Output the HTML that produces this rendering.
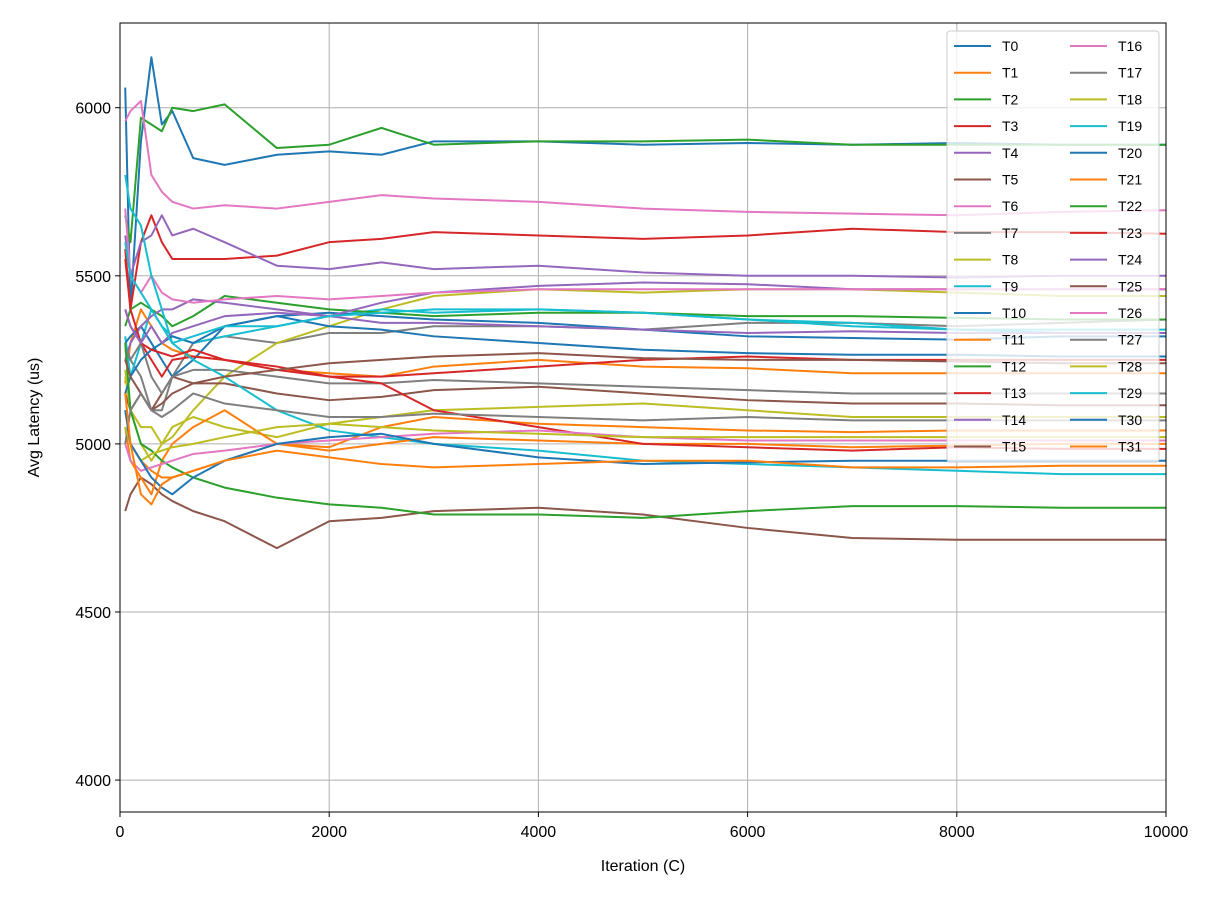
<!DOCTYPE html>
<html><head><meta charset="utf-8"><style>
body{margin:0;background:#fff;}
svg text{font-family:"Liberation Sans",sans-serif;fill:#000;}
</style></head><body>
<svg id="chart" width="1222" height="900" xmlns="http://www.w3.org/2000/svg">
<rect width="1222" height="900" fill="#fff"/>
<g id="grid"></g><g id="series"></g><g id="axes"></g><g id="legend"></g>
</svg>
<script>
const iters=[50,100,200,300,400,500,700,1000,1500,2000,2500,3000,4000,5000,6000,7000,8000,9000,10000];
const s0=[6060,5400,5900,6150,5950,5990,5850,5830,5860,5870,5860,5900,5900,5890,5895,5890,5895,5890,5890];
const s1=[5180,5300,5400,5350,5300,5280,5260,5250,5220,5210,5200,5230,5250,5230,5225,5210,5210,5210,5210];
const s2=[5680,5600,5970,5950,5930,6000,5990,6010,5880,5890,5940,5890,5900,5900,5905,5890,5890,5890,5890];
const s3=[5580,5400,5600,5680,5600,5550,5550,5550,5560,5600,5610,5630,5620,5610,5620,5640,5630,5630,5625];
const s4=[5620,5500,5600,5620,5680,5620,5640,5600,5530,5520,5540,5520,5530,5510,5500,5500,5495,5500,5500];
const s5=[4800,4850,4900,4880,4850,4830,4800,4770,4690,4770,4780,4800,4810,4790,4750,4720,4715,4715,4715];
const s6=[5960,5990,6020,5800,5750,5720,5700,5710,5700,5720,5740,5730,5720,5700,5690,5685,5680,5690,5695];
const s7=[5300,5250,5200,5100,5100,5200,5300,5320,5300,5330,5330,5350,5350,5340,5360,5360,5350,5360,5370];
const s8=[5220,5100,5050,5050,5000,5020,5100,5200,5300,5350,5400,5440,5460,5450,5460,5460,5450,5440,5440];
const s9=[5320,5200,5300,5400,5350,5320,5300,5320,5350,5380,5400,5390,5400,5390,5370,5360,5340,5330,5330];
const s10=[5300,5320,5350,5300,5250,5200,5250,5350,5380,5390,5380,5370,5360,5340,5320,5315,5310,5320,5320];
const s11=[5100,5000,4950,4920,4900,4900,4920,4950,5000,4990,5050,5080,5060,5050,5040,5035,5040,5040,5040];
const s12=[5350,5400,5420,5400,5380,5350,5380,5440,5420,5400,5390,5380,5390,5390,5380,5380,5375,5370,5370];
const s13=[5400,5350,5300,5250,5200,5250,5260,5250,5230,5200,5200,5210,5230,5250,5260,5250,5250,5250,5250];
const s14=[5250,5300,5350,5380,5400,5400,5430,5420,5400,5380,5420,5450,5470,5480,5475,5460,5460,5460,5460];
const s15=[5150,5100,5150,5100,5150,5200,5180,5180,5150,5130,5140,5160,5170,5150,5130,5120,5120,5115,5115];
const s16=[5700,5500,5450,5500,5450,5430,5420,5430,5440,5430,5440,5450,5460,5460,5460,5460,5460,5460,5460];
const s17=[5280,5250,5300,5200,5150,5200,5220,5220,5200,5180,5180,5190,5180,5170,5160,5150,5150,5150,5150];
const s18=[5200,5100,5000,4950,5000,5050,5080,5050,5020,5060,5080,5100,5110,5120,5100,5080,5080,5080,5080];
const s19=[5800,5700,5650,5500,5400,5300,5250,5200,5100,5040,5020,5000,4980,4950,4940,4930,4920,4910,4910];
const s20=[5150,5200,5250,5280,5300,5320,5300,5350,5380,5350,5340,5320,5300,5280,5270,5265,5265,5260,5260];
const s21=[5050,4950,4900,4850,4950,5000,5050,5100,5000,4980,5000,5020,5010,5000,5000,4990,4995,5000,5000];
const s22=[5300,5100,5000,4980,4950,4930,4900,4870,4840,4820,4810,4790,4790,4780,4800,4815,4815,4810,4810];
const s23=[5550,5400,5300,5280,5270,5260,5280,5250,5220,5200,5180,5100,5050,5000,4990,4980,4990,4985,4985];
const s24=[5400,5350,5300,5350,5300,5330,5350,5380,5390,5380,5360,5360,5350,5340,5330,5335,5330,5330,5330];
const s25=[5250,5200,5150,5100,5120,5150,5180,5200,5220,5240,5250,5260,5270,5255,5250,5250,5245,5240,5240];
const s26=[5000,4950,4920,4930,4940,4950,4970,4980,5000,5010,5020,5030,5040,5020,5010,5010,5010,5010,5010];
const s27=[5000,5100,5150,5100,5080,5100,5150,5120,5100,5080,5080,5090,5080,5070,5080,5070,5070,5070,5070];
const s28=[5050,5000,4950,4970,4980,4990,5000,5020,5050,5060,5050,5040,5030,5020,5020,5020,5020,5020,5020];
const s29=[5600,5500,5450,5400,5350,5300,5320,5350,5350,5380,5390,5400,5400,5390,5370,5350,5340,5340,5340];
const s30=[5100,5000,4950,4900,4870,4850,4900,4950,5000,5020,5030,5000,4960,4940,4945,4950,4950,4950,4950];
const s31=[5150,5000,4850,4820,4880,4900,4920,4950,4980,4960,4940,4930,4940,4950,4950,4930,4930,4935,4935];
const allSeries=[s0,s1,s2,s3,s4,s5,s6,s7,s8,s9,s10,s11,s12,s13,s14,s15,s16,s17,s18,s19,s20,s21,s22,s23,s24,s25,s26,s27,s28,s29,s30,s31];
const xTicks=[0,2000,4000,6000,8000,10000];
const yTicks=[4000,4500,5000,5500,6000];
const palette=['#1f77b4','#ff7f0e','#2ca02c','#d62728','#9467bd','#8c564b','#e377c2','#7f7f7f','#bcbd22','#17becf'];
const L=120,R=1166,T=23,B=812,X0=0,X1=10000,Y0=3905,Y1=6252;
const xs=v=>L+(v-X0)/(X1-X0)*(R-L);
const ys=v=>B-(v-Y0)/(Y1-Y0)*(B-T);
const NS='http://www.w3.org/2000/svg';
function mk(tag,attrs,parent){const e=document.createElementNS(NS,tag);for(const k in attrs)e.setAttribute(k,attrs[k]);parent.appendChild(e);return e;}
const grid=document.getElementById('grid'),ser=document.getElementById('series'),axes=document.getElementById('axes'),leg=document.getElementById('legend');
xTicks.forEach(t=>{
 const g=mk('line',{x1:xs(t),x2:xs(t),y1:T,y2:B,stroke:'#b0b0b0','stroke-width':1},grid);
 
 
 const tk=mk('line',{x1:xs(t),x2:xs(t),y1:B,y2:B+5,stroke:'#000','stroke-width':1},axes);
 
 
 const tx=mk('text',{x:xs(t),y:B+25,'text-anchor':'middle','font-size':16},axes);
 tx.textContent=t;
 
 
});
yTicks.forEach(t=>{
 const g=mk('line',{x1:L,x2:R,y1:ys(t),y2:ys(t),stroke:'#b0b0b0','stroke-width':1},grid);
 
 
 const tk=mk('line',{x1:L-5,x2:L,y1:ys(t),y2:ys(t),stroke:'#000','stroke-width':1},axes);
 
 
 const tx=mk('text',{x:L-9,y:ys(t)+6,'text-anchor':'end','font-size':16},axes);
 tx.textContent=t;
 
 
});
allSeries.forEach((s,i)=>{
 const p=mk('polyline',{points:s.map((v,j)=>xs(iters[j])+','+ys(v)).join(' '),fill:'none',stroke:palette[i%10],'stroke-width':2,'stroke-linejoin':'round'},ser);
 
 
});
const fr=mk('rect',{x:L,y:T,width:R-L,height:B-T,fill:'none',stroke:'#000','stroke-width':1},axes);


const xl=mk('text',{x:(L+R)/2,y:871,'text-anchor':'middle','font-size':16},axes);
xl.textContent='Iteration (C)';


const yl=mk('text',{x:0,y:0,'text-anchor':'middle','font-size':16,transform:'translate(39,'+((T+B)/2)+') rotate(-90)'},axes);
yl.textContent='Avg Latency (us)';


const lb=mk('rect',{x:947,y:31,width:212,height:431,rx:3,fill:'rgba(255,255,255,0.8)',stroke:'#cccccc','stroke-width':1},leg);


allSeries.forEach((s,i)=>{
 const col=Math.floor(i/16),row=i%16;
 const y=46+row*26.7,x=954+col*116;
 const ln=mk('line',{x1:x,x2:x+37,y1:y,y2:y,stroke:palette[i%10],'stroke-width':2},leg);
 
 
 const tx=mk('text',{x:x+48,y:y+5,'font-size':14},leg);
 tx.textContent='T'+i;
 
 
});
</script>
</body></html>
